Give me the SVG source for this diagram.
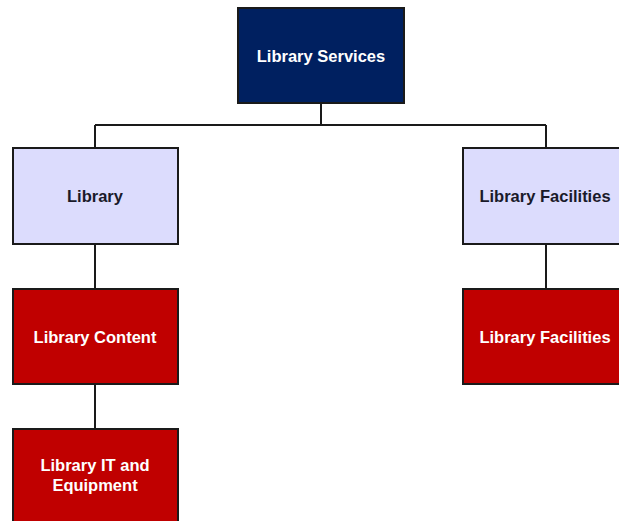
<svg xmlns="http://www.w3.org/2000/svg" width="619" height="521" viewBox="0 0 619 521">
  <style>
    .box { stroke: #1a1a1a; stroke-width: 2; }
    .navy { fill: #002060; }
    .lilac { fill: #dcdcfd; }
    .red { fill: #c00000; }
    .lbl { font-family: "Liberation Sans", Arial, sans-serif; font-weight: bold; font-size: 16.5px; text-anchor: middle; dominant-baseline: central; }
    .light { fill: #ffffff; }
    .dark { fill: #1a1a2a; }
    .wire { stroke: #1a1a1a; stroke-width: 2; fill: none; }
  </style>
  <rect width="619" height="521" fill="#ffffff"/>
  <g id="connectors">
    <path class="wire" d="M321 103 V125 M95 125 H546 M95 125 V148 M546 125 V148"/>
    <path class="wire" d="M95 244 V289 M95 384 V429"/>
    <path class="wire" d="M546 244 V289"/>
  </g>
  <g id="library-services">
    <rect class="box navy" x="238" y="8" width="166" height="95"/>
    <text class="lbl light" x="321" y="56">Library Services</text>
  </g>
  <g id="library">
    <rect class="box lilac" x="13" y="148" width="165" height="96"/>
    <text class="lbl dark" x="95" y="196">Library</text>
  </g>
  <g id="library-facilities-group">
    <rect class="box lilac" x="463" y="148" width="165" height="96"/>
    <text class="lbl dark" x="545" y="196">Library Facilities</text>
  </g>
  <g id="library-content">
    <rect class="box red" x="13" y="289" width="165" height="95"/>
    <text class="lbl light" x="95" y="337">Library Content</text>
  </g>
  <g id="library-facilities">
    <rect class="box red" x="463" y="289" width="165" height="95"/>
    <text class="lbl light" x="545" y="337">Library Facilities</text>
  </g>
  <g id="library-it-equipment">
    <rect class="box red" x="13" y="429" width="165" height="100"/>
    <text class="lbl light" x="95" y="465">Library IT and</text>
    <text class="lbl light" x="95" y="485">Equipment</text>
  </g>
</svg>
